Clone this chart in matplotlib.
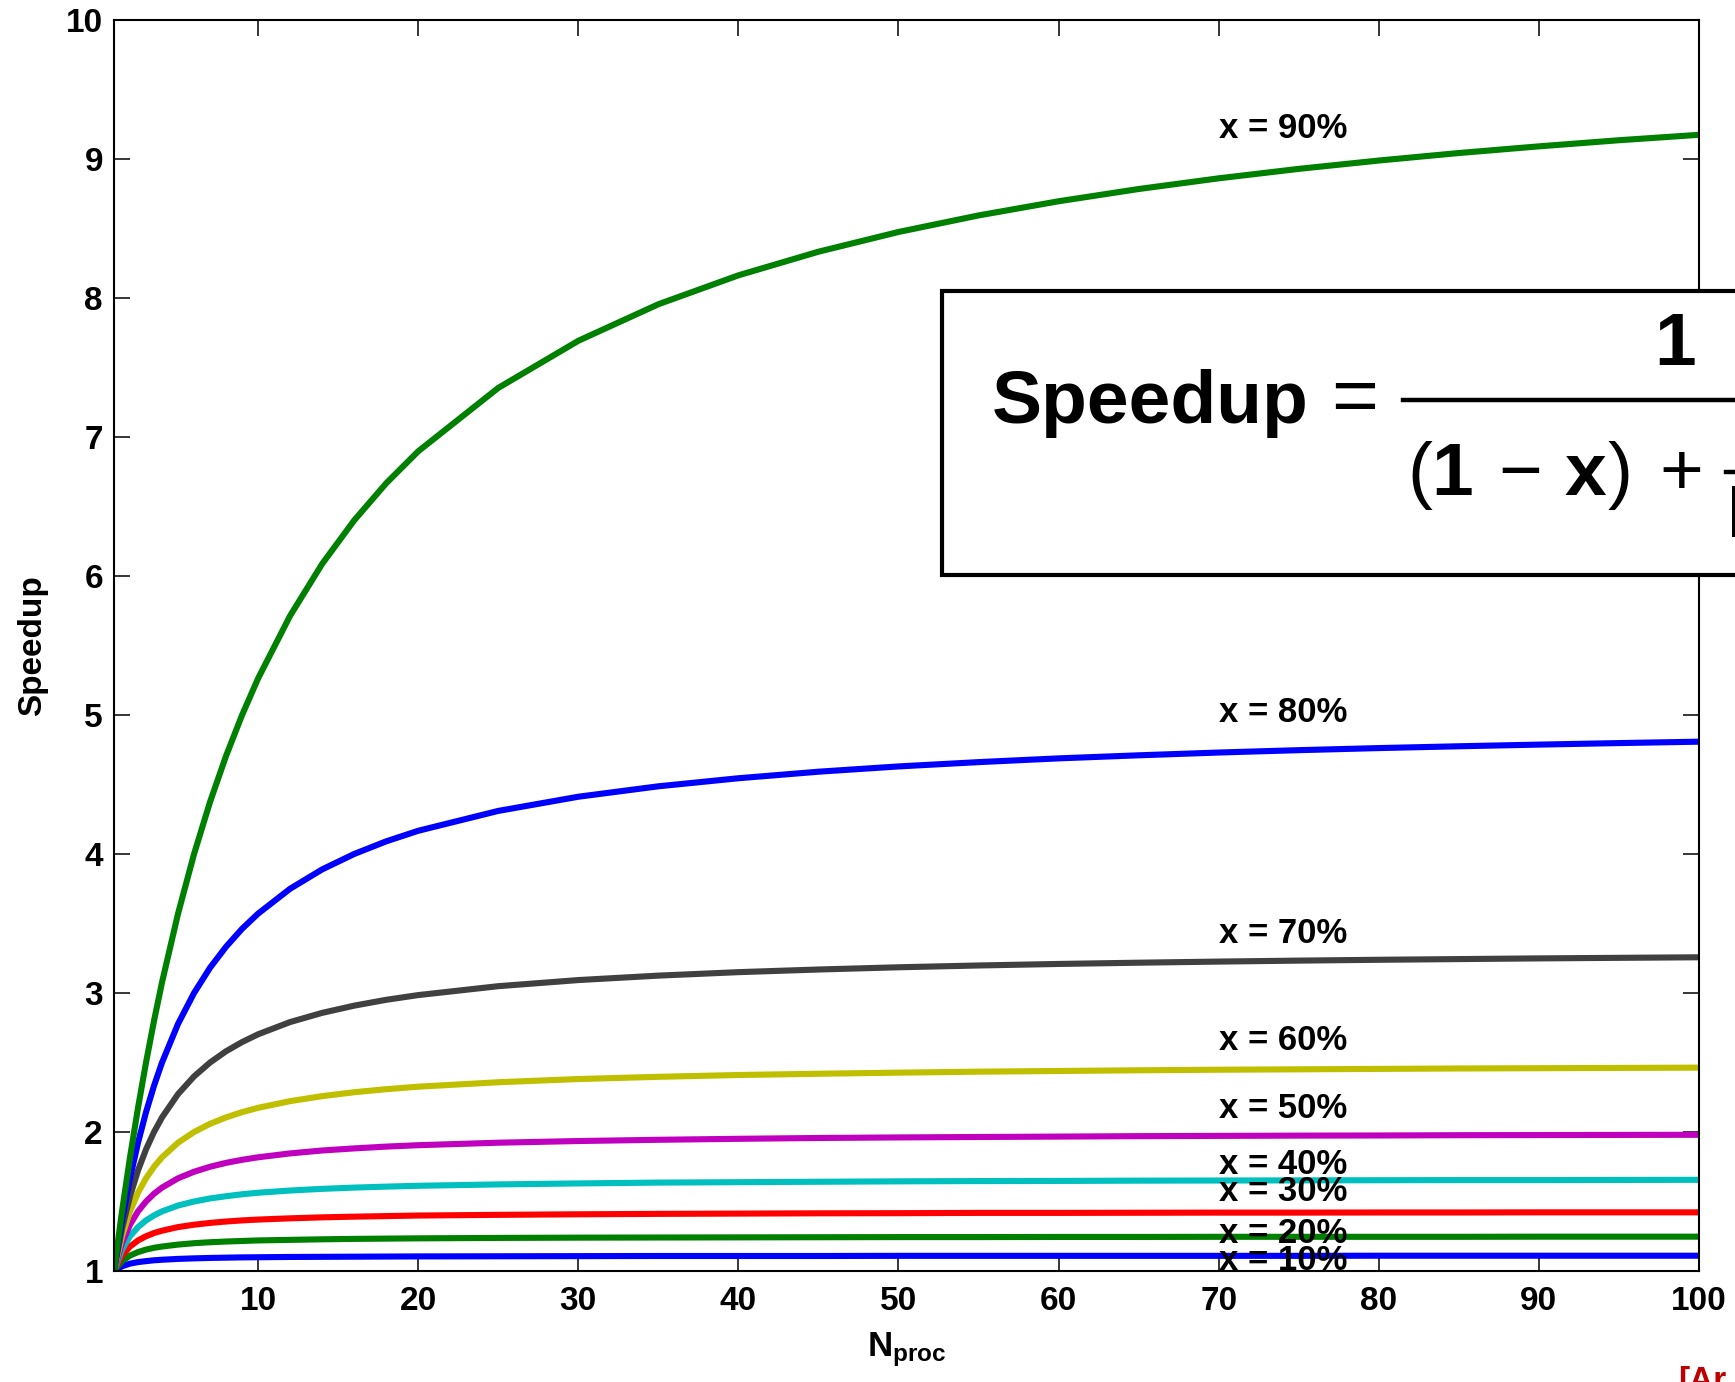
import matplotlib
matplotlib.use("Agg")
import matplotlib.pyplot as plt
from matplotlib.patches import Rectangle
from matplotlib.lines import Line2D

# ---------------- data ----------------
N_proc = [1, 1.5, 2, 2.5, 3, 3.5, 4, 5, 6, 7, 8, 9, 10, 12, 14, 16, 18, 20,
          25, 30, 35, 40, 45, 50, 55, 60, 65, 70, 75, 80, 85, 90, 95, 100]

speedup_90 = [1.0, 1.429, 1.818, 2.174, 2.500, 2.800, 3.077, 3.571, 4.000, 4.375,
              4.706, 5.000, 5.263, 5.714, 6.087, 6.400, 6.667, 6.897, 7.353, 7.692,
              7.955, 8.163, 8.333, 8.475, 8.594, 8.696, 8.784, 8.861, 8.929, 8.989,
              9.043, 9.091, 9.135, 9.174]
speedup_80 = [1.0, 1.364, 1.667, 1.923, 2.143, 2.333, 2.500, 2.778, 3.000, 3.182,
              3.333, 3.462, 3.571, 3.750, 3.889, 4.000, 4.091, 4.167, 4.310, 4.412,
              4.487, 4.545, 4.592, 4.630, 4.661, 4.688, 4.710, 4.730, 4.747, 4.762,
              4.775, 4.787, 4.798, 4.808]
speedup_70 = [1.0, 1.304, 1.538, 1.724, 1.875, 2.000, 2.105, 2.273, 2.400, 2.500,
              2.581, 2.647, 2.703, 2.791, 2.857, 2.909, 2.951, 2.985, 3.049, 3.093,
              3.125, 3.150, 3.169, 3.185, 3.198, 3.209, 3.218, 3.226, 3.233, 3.239,
              3.244, 3.249, 3.253, 3.257]
speedup_60 = [1.0, 1.250, 1.429, 1.563, 1.667, 1.750, 1.818, 1.923, 2.000, 2.059,
              2.105, 2.143, 2.174, 2.222, 2.258, 2.286, 2.308, 2.326, 2.358, 2.381,
              2.397, 2.410, 2.419, 2.427, 2.434, 2.439, 2.444, 2.448, 2.451, 2.454,
              2.457, 2.459, 2.461, 2.463]
speedup_50 = [1.0, 1.200, 1.333, 1.429, 1.500, 1.556, 1.600, 1.667, 1.714, 1.750,
              1.778, 1.800, 1.818, 1.846, 1.867, 1.882, 1.895, 1.905, 1.923, 1.935,
              1.944, 1.951, 1.957, 1.961, 1.964, 1.967, 1.970, 1.972, 1.974, 1.975,
              1.977, 1.978, 1.979, 1.980]
speedup_40 = [1.0, 1.154, 1.250, 1.316, 1.364, 1.400, 1.429, 1.471, 1.500, 1.522,
              1.538, 1.552, 1.563, 1.579, 1.591, 1.600, 1.607, 1.613, 1.623, 1.630,
              1.636, 1.639, 1.642, 1.645, 1.647, 1.648, 1.650, 1.651, 1.652, 1.653,
              1.654, 1.654, 1.655, 1.656]
speedup_30 = [1.0, 1.111, 1.176, 1.220, 1.250, 1.273, 1.290, 1.316, 1.333, 1.346,
              1.356, 1.364, 1.370, 1.379, 1.386, 1.391, 1.395, 1.399, 1.404, 1.408,
              1.411, 1.413, 1.415, 1.416, 1.418, 1.418, 1.419, 1.420, 1.420, 1.421,
              1.421, 1.422, 1.422, 1.422]
speedup_20 = [1.0, 1.071, 1.111, 1.136, 1.154, 1.167, 1.176, 1.190, 1.200, 1.207,
              1.212, 1.216, 1.220, 1.224, 1.228, 1.231, 1.233, 1.235, 1.238, 1.240,
              1.241, 1.242, 1.243, 1.244, 1.244, 1.245, 1.245, 1.246, 1.246, 1.246,
              1.246, 1.247, 1.247, 1.247]
speedup_10 = [1.0, 1.034, 1.053, 1.064, 1.071, 1.077, 1.081, 1.087, 1.091, 1.094,
              1.096, 1.098, 1.099, 1.101, 1.102, 1.103, 1.104, 1.105, 1.106, 1.107,
              1.108, 1.108, 1.108, 1.109, 1.109, 1.109, 1.109, 1.109, 1.109, 1.110,
              1.110, 1.110, 1.110, 1.110]

series_labels = ["x = 10%", "x = 20%", "x = 30%", "x = 40%", "x = 50%",
                 "x = 60%", "x = 70%", "x = 80%", "x = 90%"]
label_N = 70
label_y = [1.01, 1.205, 1.505, 1.70, 2.10, 2.59, 3.36, 4.95, 9.15]

x_ticks = [10, 20, 30, 40, 50, 60, 70, 80, 90, 100]
y_ticks = [1, 2, 3, 4, 5, 6, 7, 8, 9, 10]

# ---------------- style ----------------
plt.rcParams['font.family'] = ['Liberation Sans', 'DejaVu Sans']
plt.rcParams['font.weight'] = 'bold'
plt.rcParams['mathtext.fontset'] = 'custom'
plt.rcParams['mathtext.rm'] = 'Liberation Sans:bold'
plt.rcParams['mathtext.bf'] = 'Liberation Sans:bold'
plt.rcParams['mathtext.it'] = 'Liberation Sans:bold'

colors = ['#0000FF', '#008000', '#FF0000', '#00BFBF', '#BF00BF',
          '#BFBF00', '#404040', '#0000FF', '#008000']

W, H = 1735, 1382
fig = plt.figure(figsize=(W / 100, H / 100), dpi=100)


def fx(p):
    return p / W


def fy(p):
    return 1 - p / H


ax = fig.add_axes([fx(114), fy(1271), (1699 - 114) / W, (1271 - 20) / H])

all_series = [speedup_10, speedup_20, speedup_30, speedup_40, speedup_50,
              speedup_60, speedup_70, speedup_80, speedup_90]
for vals, c in zip(all_series, colors):
    ax.plot(N_proc, vals, color=c, lw=4.4, solid_joinstyle='round',
            solid_capstyle='butt')

for lab, yv in zip(series_labels, label_y):
    ax.text(label_N, yv, lab, fontsize=25, fontweight='bold', ha='left',
            va='baseline', zorder=4)

ax.set_xlim(1, 100)
ax.set_ylim(1, 10)
ax.set_xticks(x_ticks)
ax.set_yticks(y_ticks)
ax.set_xticklabels([str(t) for t in x_ticks])
ax.set_yticklabels([str(t) for t in y_ticks])
ax.tick_params(axis='both', direction='in', length=11.5, width=1.1,
               top=True, right=True, labelsize=24)
ax.tick_params(axis='x', pad=11)
ax.tick_params(axis='y', pad=8)
for s in ax.spines.values():
    s.set_linewidth(1.5)

ax.set_ylabel('Speedup', fontsize=24, fontweight='bold')
ax.yaxis.set_label_coords(-0.0416, 0.5)
ax.set_xlabel(r'$\mathbf{N}_{\mathbf{proc}}$', fontsize=25)
ax.xaxis.set_label_coords(0.5, -0.047)

# ---------------- formula box ----------------
box = Rectangle((fx(942), fy(575)), fx(1950) - fx(942), fy(291) - fy(575),
                transform=fig.transFigure, facecolor='white', edgecolor='black',
                lw=3, clip_on=False, zorder=5)
ax.add_patch(box)

fs = 54
fig.text(fx(992), fy(423), 'Speedup', fontsize=fs, fontweight='bold',
         ha='left', va='baseline')
fig.text(fx(1355), fy(423), '=', fontsize=fs + 4, fontweight='normal',
         ha='center', va='baseline')
fig.add_artist(Line2D([fx(1403), fx(1800)], [fy(400), fy(400)],
                      transform=fig.transFigure, lw=3.2, color='black'))
fig.text(fx(1675), fy(365), '1', fontsize=fs, fontweight='bold',
         ha='center', va='baseline')
base = fy(495)
fig.text(fx(1420), base, '(', fontsize=fs, fontweight='normal', ha='center', va='baseline')
fig.text(fx(1452), base, '1', fontsize=fs, fontweight='bold', ha='center', va='baseline')
fig.text(fx(1520), base, '\u2212', fontsize=fs, fontweight='normal', ha='center', va='baseline')
fig.text(fx(1585), base, 'x', fontsize=fs, fontweight='bold', ha='center', va='baseline')
fig.text(fx(1620), base, ')', fontsize=fs, fontweight='normal', ha='center', va='baseline')
fig.text(fx(1681), base, '+', fontsize=fs, fontweight='normal', ha='center', va='baseline')
fig.add_artist(Line2D([fx(1726), fx(1800)], [fy(472), fy(472)],
                      transform=fig.transFigure, lw=3.2, color='black'))
fig.text(fx(1727), fy(537), 'N', fontsize=fs, fontweight='bold', ha='left', va='baseline')

# reference note (cut off at the figure edge)
fig.text(fx(1678), fy(1366), '[Ar', fontsize=24, fontweight='bold',
         color='#C00000', ha='left', va='top')

fig.savefig('out.png', dpi=100)
